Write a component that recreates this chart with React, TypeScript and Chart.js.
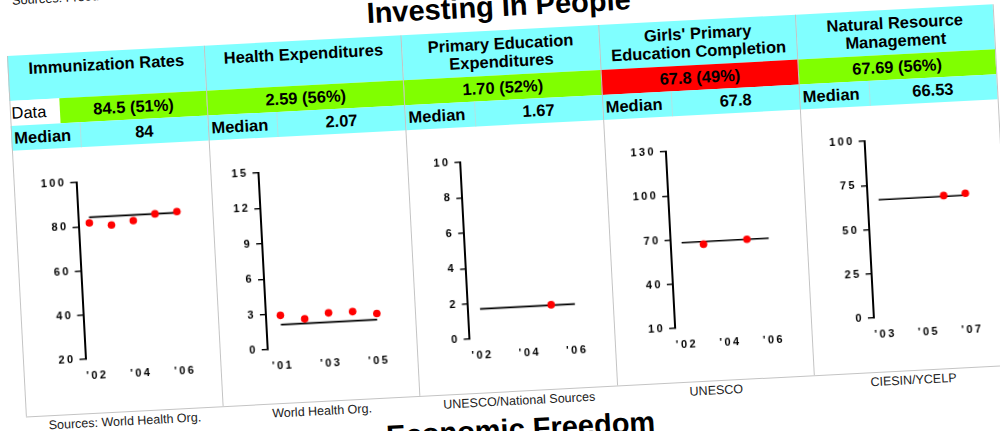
import React, { useEffect, useRef } from 'react';
import { Chart, registerables } from 'chart.js';

Chart.register(...registerables);

const FONT = '"Liberation Sans", Arial, Helvetica, sans-serif';

// ---------- Table text ----------
const headerLines: string[][] = [
  ['Immunization Rates'],
  ['Health Expenditures'],
  ['Primary Education', 'Expenditures'],
  ["Girls' Primary", 'Education Completion'],
  ['Natural Resource', 'Management'],
];
const dataLabels = ['84.5 (51%)', '2.59 (56%)', '1.70 (52%)', '67.8 (49%)', '67.69 (56%)'];
const dataStatus = ['pass', 'pass', 'pass', 'fail', 'pass'];
const medianValues = [84, 2.07, 1.67, 67.8, 66.53];
const medianLabels = ['84', '2.07', '1.67', '67.8', '66.53'];
const sourceLabels = [
  'Sources: World Health Org.',
  'World Health Org.',
  'UNESCO/National Sources',
  'UNESCO',
  'CIESIN/YCELP',
];

// ---------- Chart data ----------
const immunizationYears = [2002, 2003, 2004, 2005, 2006];
const immunizationValues = [81.5, 80, 81.5, 84, 84.5];
const immunizationSpan = [2002, 2006];
const immunizationYTicks = [20, 40, 60, 80, 100];
const immunizationXTicks = [2002, 2004, 2006];
const immunizationXLabels = ["'02", "'04", "'06"];
const immunizationXRange = [2001.5, 2006.5];

const healthYears = [2001, 2002, 2003, 2004, 2005];
const healthValues = [2.85, 2.45, 2.85, 2.85, 2.59];
const healthSpan = [2001, 2005];
const healthYTicks = [0, 3, 6, 9, 12, 15];
const healthXTicks = [2001, 2003, 2005];
const healthXLabels = ["'01", "'03", "'05"];
const healthXRange = [2000.4, 2005.5];

const eduExpYears = [2005];
const eduExpValues = [1.7];
const eduExpSpan = [2002, 2006];
const eduExpYTicks = [0, 2, 4, 6, 8, 10];
const eduExpXTicks = [2002, 2004, 2006];
const eduExpXLabels = ["'02", "'04", "'06"];
const eduExpXRange = [2001.5, 2006.5];

const girlsYears = [2003, 2005];
const girlsValues = [66, 67.8];
const girlsSpan = [2002, 2006];
const girlsYTicks = [10, 40, 70, 100, 130];
const girlsXTicks = [2002, 2004, 2006];
const girlsXLabels = ["'02", "'04", "'06"];
const girlsXRange = [2001.5, 2006.5];

const natresYears = [2006, 2007];
const natresValues = [67, 67.69];
const natresSpan = [2003, 2007];
const natresYTicks = [0, 25, 50, 75, 100];
const natresXTicks = [2003, 2005, 2007];
const natresXLabels = ["'03", "'05", "'07"];
const natresXRange = [2002.5, 2007.5];

type Spec = {
  years: number[];
  values: number[];
  median: number;
  span: number[];
  yTicks: number[];
  xTicks: number[];
  xLabels: string[];
  xRange: number[];
};

const specs: Spec[] = [
  { years: immunizationYears, values: immunizationValues, median: medianValues[0], span: immunizationSpan, yTicks: immunizationYTicks, xTicks: immunizationXTicks, xLabels: immunizationXLabels, xRange: immunizationXRange },
  { years: healthYears, values: healthValues, median: medianValues[1], span: healthSpan, yTicks: healthYTicks, xTicks: healthXTicks, xLabels: healthXLabels, xRange: healthXRange },
  { years: eduExpYears, values: eduExpValues, median: medianValues[2], span: eduExpSpan, yTicks: eduExpYTicks, xTicks: eduExpXTicks, xLabels: eduExpXLabels, xRange: eduExpXRange },
  { years: girlsYears, values: girlsValues, median: medianValues[3], span: girlsSpan, yTicks: girlsYTicks, xTicks: girlsXTicks, xLabels: girlsXLabels, xRange: girlsXRange },
  { years: natresYears, values: natresValues, median: medianValues[4], span: natresSpan, yTicks: natresYTicks, xTicks: natresXTicks, xLabels: natresXLabels, xRange: natresXRange },
];

// ---------- Layout (local, unrotated coordinates) ----------
const COLW = 197.4;
const TABLE_W = COLW * 5;
const DATA_TOP = 45;
const MED_TOP = 70;
const MED_BOTTOM = 95;
const PANEL_BOTTOM = 361;
const CANVAS_H = PANEL_BOTTOM - MED_BOTTOM;
const AREA_TOP = 35;
const AREA_BOTTOM = 212;
const Y_W = 40;
const X_H = 30;
const areaLeft = [62.5, 48, 52.3, 61, 62];
const areaRight = [172.5, 170.9, 171, 170, 170.7];

const CYAN = '#80ffff';
const GREEN = '#80ff00';
const RED = '#ff0000';
const LINE_GRAY = '#c4c4c4';

const spacingPlugin = {
  id: 'letterSpacing',
  beforeUpdate(chart: any) {
    chart.ctx.letterSpacing = '2.4px';
  },
  beforeDraw(chart: any) {
    chart.ctx.letterSpacing = '2.4px';
  },
};

function MiniChart({ spec, idx }: { spec: Spec; idx: number }) {
  const ref = useRef<HTMLCanvasElement>(null);
  useEffect(() => {
    const canvas = ref.current!;
    const W = Math.round(COLW);
    const chart = new Chart(canvas, {
      type: 'scatter',
      data: {
        datasets: [
          {
            data: spec.years.map((x, i) => ({ x, y: spec.values[i] })),
            backgroundColor: RED,
            borderColor: RED,
            borderWidth: 0,
            pointRadius: 3.8,
            pointHoverRadius: 3.8,
          },
          {
            data: spec.span.map((x) => ({ x, y: spec.median })),
            showLine: true,
            borderColor: '#000',
            borderWidth: 1.7,
            pointRadius: 0,
            pointHoverRadius: 0,
            fill: false,
          },
        ],
      } as any,
      options: {
        animation: false,
        responsive: false,
        events: [],
        layout: {
          padding: {
            left: areaLeft[idx] - Y_W,
            right: W - areaRight[idx],
            top: AREA_TOP,
            bottom: CANVAS_H - AREA_BOTTOM - X_H,
          },
        },
        plugins: { legend: { display: false }, tooltip: { enabled: false } },
        scales: {
          x: {
            type: 'linear',
            position: 'bottom',
            min: spec.xRange[0],
            max: spec.xRange[1],
            grid: { display: false },
            border: { display: false },
            afterBuildTicks: (s: any) => {
              s.ticks = spec.xTicks.map((v) => ({ value: v }));
            },
            afterFit: (s: any) => {
              s.height = X_H;
            },
            ticks: {
              color: '#000',
              font: { family: FONT, size: 11, weight: 'bold' },
              padding: 2,
              maxRotation: 0,
              autoSkip: false,
              callback: (_v: any, i: number) => spec.xLabels[i],
            },
          },
          y: {
            type: 'linear',
            min: spec.yTicks[0],
            max: spec.yTicks[spec.yTicks.length - 1],
            grid: {
              display: true,
              drawOnChartArea: false,
              drawTicks: true,
              tickLength: 6,
              color: '#000',
              lineWidth: 1.4,
            },
            border: { display: true, color: '#000', width: 2 },
            afterBuildTicks: (s: any) => {
              s.ticks = spec.yTicks.map((v) => ({ value: v }));
            },
            afterFit: (s: any) => {
              s.width = Y_W;
            },
            ticks: {
              color: '#000',
              font: { family: FONT, size: 11, weight: 'bold' },
              padding: 4,
              autoSkip: false,
              callback: (v: any) => String(v),
            },
          },
        },
      } as any,
      plugins: [spacingPlugin],
    });
    return () => chart.destroy();
  }, [spec, idx]);
  return (
    <canvas
      ref={ref}
      width={Math.round(COLW)}
      height={CANVAS_H}
      style={{
        position: 'absolute',
        left: idx * COLW,
        top: MED_BOTTOM,
        width: Math.round(COLW),
        height: CANVAS_H,
      }}
    />
  );
}

const abs = (o: React.CSSProperties): React.CSSProperties => ({ position: 'absolute', ...o });

export default function App() {
  const boldText: React.CSSProperties = {
    fontFamily: FONT,
    fontWeight: 'bold',
    fontSize: 16.5,
    color: '#000',
    whiteSpace: 'nowrap',
  };
  return (
    <div
      style={{
        position: 'fixed',
        left: 0,
        top: 0,
        width: 1000,
        height: 431,
        overflow: 'hidden',
        background: '#fff',
      }}
    >
      <div
        style={{
          position: 'absolute',
          left: 7,
          top: 56,
          width: TABLE_W,
          height: 0,
          transformOrigin: '0 0',
          transform: 'rotate(-3deg)',
        }}
      >
        {/* previous section source */}
        <div
          style={abs({
            left: 8,
            top: -61.1,
            fontFamily: FONT,
            fontSize: 12.7,
            lineHeight: '12.5px',
            color: '#111',
            whiteSpace: 'nowrap',
          })}
        >
          Sources: Freedom House
        </div>
        {/* title */}
        <div
          style={abs({
            left: 0,
            top: -38.5,
            width: TABLE_W,
            textAlign: 'center',
            fontFamily: FONT,
            fontWeight: 'bold',
            fontSize: 29,
            lineHeight: '29px',
            color: '#000',
          })}
        >
          Investing In People
        </div>

        {headerLines.map((lines, i) => {
          const x = i * COLW;
          return (
            <React.Fragment key={i}>
              <div
                style={abs({
                  left: x,
                  top: 0,
                  width: COLW,
                  height: DATA_TOP,
                  background: CYAN,
                })}
              >
                <div style={{ ...boldText, paddingTop: 3.5, lineHeight: '18.5px', textAlign: 'center' }}>
                  {lines.map((l, k) => (
                    <div key={k}>{l}</div>
                  ))}
                </div>
              </div>
              {i === 0 && (
                <div
                  style={abs({
                    left: x,
                    top: DATA_TOP,
                    width: 50,
                    height: MED_TOP - DATA_TOP,
                    background: '#fff',
                    fontFamily: FONT,
                    fontSize: 16.5,
                    lineHeight: `${MED_TOP - DATA_TOP}px`,
                    paddingLeft: 1.5,
                    boxSizing: 'border-box',
                    color: '#000',
                  })}
                >
                  Data
                </div>
              )}
              <div
                style={abs({
                  left: i === 0 ? x + 50 : x,
                  top: DATA_TOP,
                  width: i === 0 ? COLW - 50 : COLW,
                  height: MED_TOP - DATA_TOP,
                  background: dataStatus[i] === 'pass' ? GREEN : RED,
                  ...boldText,
                  lineHeight: `${MED_TOP - DATA_TOP}px`,
                  textAlign: 'center',
                })}
              >
                {dataLabels[i]}
              </div>
              <div
                style={abs({
                  left: x,
                  top: MED_TOP,
                  width: COLW,
                  height: MED_BOTTOM - MED_TOP,
                  background: CYAN,
                })}
              />
              <div
                style={abs({
                  left: x + 3,
                  top: MED_TOP,
                  ...boldText,
                  lineHeight: `${MED_BOTTOM - MED_TOP}px`,
                })}
              >
                Median
              </div>
              <div
                style={abs({
                  left: x + 69,
                  top: MED_TOP,
                  width: 1,
                  height: MED_BOTTOM - MED_TOP,
                  background: 'rgba(190,220,220,0.8)',
                })}
              />
              <div
                style={abs({
                  left: x + 69,
                  top: MED_TOP,
                  width: COLW - 69,
                  textAlign: 'center',
                  ...boldText,
                  lineHeight: `${MED_BOTTOM - MED_TOP}px`,
                })}
              >
                {medianLabels[i]}
              </div>
              <div
                style={abs({
                  left: x,
                  top: 363.6,
                  width: COLW,
                  textAlign: 'center',
                  fontFamily: FONT,
                  fontSize: 12.5,
                  lineHeight: '14px',
                  color: '#222',
                  whiteSpace: 'nowrap',
                })}
              >
                {sourceLabels[i]}
              </div>
            </React.Fragment>
          );
        })}

        {/* grid lines */}
        {[0, 1, 2, 3, 4, 5].map((i) => (
          <div
            key={'v' + i}
            style={abs({
              left: i * COLW - 0.5,
              top: 0,
              width: 1,
              height: PANEL_BOTTOM,
              background: LINE_GRAY,
            })}
          />
        ))}
        <div
          style={abs({
            left: 0,
            top: PANEL_BOTTOM,
            width: TABLE_W,
            height: 1,
            background: LINE_GRAY,
          })}
        />

        {specs.map((s, i) => (
          <MiniChart key={i} spec={s} idx={i} />
        ))}

        {/* next section */}
        <div
          style={abs({
            left: 0,
            top: 384.5,
            width: TABLE_W,
            textAlign: 'center',
            fontFamily: FONT,
            fontWeight: 'bold',
            fontSize: 29,
            lineHeight: '29px',
            color: '#000',
          })}
        >
          Economic Freedom
        </div>
        <div
          style={abs({
            left: 0,
            top: 426.5,
            width: TABLE_W,
            height: 50,
            background: CYAN,
          })}
        />
      </div>
    </div>
  );
}
